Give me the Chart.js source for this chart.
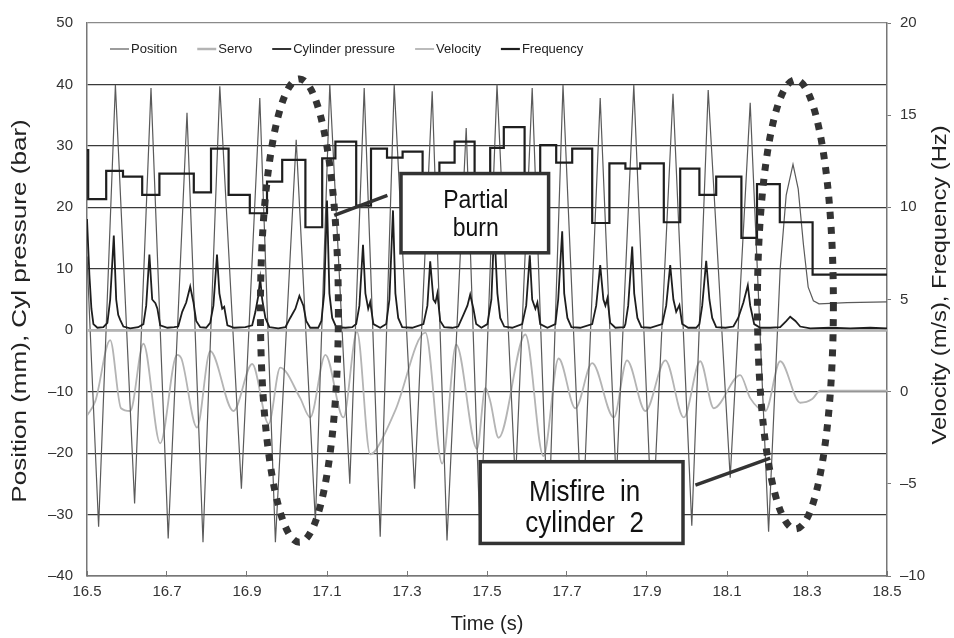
<!DOCTYPE html>
<html>
<head>
<meta charset="utf-8">
<title>Misfire / partial burn trace</title>
<script src="https://cdn.jsdelivr.net/npm/chart.js@4.4.1/dist/chart.umd.min.js"></script>
<style>
  body { margin: 0; background: #fff; }
</style>
</head>
<body>
<canvas id="chart" width="954" height="638"></canvas>
<script>
// values: [time (s), value]
const position = [
  [16.5,12],[16.529,-32.0],[16.571,39.9],[16.619,-28.2],[16.660,39.4],[16.703,-33.9],
  [16.750,35.4],[16.790,-34.5],[16.832,39.7],[16.886,-25.8],[16.932,37.8],[16.971,-34.5],
  [17.023,31.0],[17.071,-31.2],[17.107,40.0],[17.157,-25.0],[17.193,39.4],[17.233,-33.6],
  [17.268,39.9],[17.319,-25.8],[17.363,38.9],[17.400,-34.2],[17.448,32.9],[17.483,-34],
  [17.525,40.0],[17.571,-25],[17.613,39.4],[17.653,-34],[17.690,39.9],[17.738,-33],
  [17.783,37.8],[17.823,-25],[17.867,39.9],[17.913,-33],[17.965,38.5],[18.012,-31.8],
  [18.053,39.1],[18.108,-24.0],[18.158,37.0],[18.204,-32.8],[18.233,10],[18.248,22],
  [18.265,27.0],[18.278,23],[18.291,14],[18.303,7],[18.316,4.8],[18.330,4.3],[18.4,4.5],[18.5,4.6]
];

const servo = [[16.5,0],[18.5,0]];

const pressure = [
  [16.500,18.1],[16.506,9],[16.511,3.5],[16.516,1.0],[16.526,0.4],[16.541,0.5],
  [16.551,1.2],[16.558,5],[16.567,15.4],[16.573,5],[16.578,2.5],[16.583,1.7],[16.591,0.6],[16.608,0.3],[16.628,0.5],
  [16.641,1],[16.648,4],[16.656,12.3],[16.663,5],[16.671,4.4],[16.676,3.5],[16.683,0.8],[16.701,0.4],[16.718,0.5],
  [16.728,0.6],[16.738,3],[16.748,4.5],[16.758,7.1],[16.766,4.6],[16.773,1.5],[16.783,0.5],[16.798,0.4],
  [16.808,1.2],[16.816,4],[16.825,12.3],[16.831,6],[16.838,3.5],[16.843,3.8],[16.851,0.8],[16.868,0.4],[16.896,0.5],
  [16.913,0.8],[16.921,3],[16.928,5.5],[16.933,8.4],[16.938,5],[16.946,2],[16.956,0.5],[16.978,0.3],
  [16.996,0.5],[17.008,2],[17.021,3.5],[17.031,5.6],[17.041,4],[17.048,1.5],[17.058,0.4],[17.078,0.4],
  [17.086,1.5],[17.093,6],[17.100,21.1],[17.106,6],[17.113,2],[17.123,0.5],[17.146,0.4],[17.163,0.5],
  [17.173,1],[17.181,4],[17.190,13.9],[17.196,6],[17.203,3.5],[17.208,4.6],[17.216,1],[17.233,0.4],
  [17.248,1],[17.256,5],[17.265,19.5],[17.271,6],[17.278,2],[17.288,0.5],[17.313,0.4],
  [17.341,1],[17.351,4],[17.358,11.2],[17.366,5],[17.371,4.5],[17.376,6],[17.383,1.5],[17.393,0.5],[17.413,0.4],
  [17.428,0.6],[17.441,2.5],[17.451,4],[17.458,5.8],[17.466,3.5],[17.473,1],[17.486,0.4],
  [17.501,1],[17.511,5],[17.518,16.8],[17.526,6],[17.533,2],[17.543,0.6],[17.563,0.4],
  [17.588,1],[17.598,4],[17.607,12.2],[17.613,5],[17.621,3.5],[17.626,4.5],[17.633,1],[17.651,0.4],
  [17.671,1],[17.678,5],[17.688,16.1],[17.693,6],[17.701,2],[17.711,0.5],[17.733,0.4],
  [17.763,1],[17.773,4],[17.783,10.6],[17.791,5],[17.796,4],[17.801,5.2],[17.808,1.2],[17.821,0.4],[17.843,0.5],
  [17.846,1],[17.853,4],[17.863,13.6],[17.868,6],[17.876,2],[17.886,0.5],[17.908,0.4],
  [17.938,1],[17.948,4],[17.958,10.6],[17.966,5],[17.973,3],[17.981,4.1],[17.988,1],[18.003,0.4],[18.023,0.4],
  [18.031,1],[18.038,4],[18.048,11.3],[18.056,5],[18.063,2],[18.073,0.5],[18.096,0.4],
  [18.116,0.6],[18.128,2],[18.141,4.5],[18.152,7.3],[18.158,4],[18.168,1],[18.183,0.4],[18.208,0.4],
  [18.233,0.5],[18.248,1.5],[18.258,2.2],[18.271,1.5],[18.283,0.6],[18.308,0.3],[18.358,0.4],[18.408,0.3],[18.458,0.4],[18.500,0.3]
];

const velocity = [
  [16.500,-1.3],[16.521,-0.5],[16.558,2.8],[16.585,-0.9],[16.608,-1.05],[16.641,2.6],[16.683,-2.8],
  [16.725,2.0],[16.736,1.8],[16.775,-1.95],[16.808,2.2],[16.866,-1.05],[16.913,1.5],[16.954,-1.75],
  [16.983,1.3],[17.033,-0.35],[17.058,-1.4],[17.096,2.0],[17.141,-1.4],[17.175,3.25],[17.208,-3.4],
  [17.221,-3.2],[17.271,-1.0],[17.346,3.2],[17.388,-3.9],[17.423,2.55],[17.475,-3.1],[17.496,0.2],
  [17.508,-0.5],[17.529,-2.5],[17.596,3.1],[17.641,-3.5],[17.679,1.8],[17.721,-0.9],[17.763,1.55],
  [17.817,-1.4],[17.850,1.7],[17.896,-1.05],[17.946,1.7],[17.992,-1.4],[18.033,1.65],[18.067,-0.9],
  [18.133,0.9],[18.158,-0.35],[18.196,-1.05],[18.233,1.65],[18.283,-0.6],[18.313,-0.4],[18.333,0.05],[18.5,0.05]
];

// frequency: level holds from each time to the next one
const frequency = [
  [16.500,13.1],[16.503,10.45],[16.548,11.98],[16.590,11.67],[16.638,10.68],[16.681,11.83],
  [16.767,10.81],[16.810,13.18],[16.854,10.68],[16.907,9.68],[16.950,11.40],[16.988,12.57],
  [17.046,8.92],[17.088,12.66],[17.121,13.56],[17.173,10.09],[17.210,13.18],[17.250,12.70],
  [17.289,13.02],[17.339,10.3],[17.381,12.43],[17.419,13.56],[17.469,10.6],[17.508,13.23],
  [17.542,14.35],[17.594,11.0],[17.633,13.38],[17.673,12.43],[17.713,13.18],[17.763,9.15],
  [17.806,12.39],[17.846,12.10],[17.883,12.39],[17.942,9.19],[17.983,12.10],[18.031,10.68],
  [18.073,11.67],[18.136,8.34],[18.175,11.26],[18.232,9.19],[18.314,6.35],[18.500,6.35]
];

// call-outs, in data units of the left axis
const ellipses = [
  { t: 17.031, v: 3.2, dt: 0.0975, dv: 37.7 },
  { t: 18.271, v: 4.2, dt: 0.095, dv: 36.55 }
];
const boxes = [
  { t0: 17.285, t1: 17.654, v0: 25.5, v1: 12.6, lines: ['Partial', 'burn'], size: 23, stretch: 1.11, base: [34, 62.3], shift: 1 },
  { t0: 17.483, t1: 17.990, v0: -21.4, v1: -34.7, lines: ['Misfire  in', 'cylinder  2'], size: 26, stretch: 1.17, base: [39, 70.7], shift: 3 }
];
const leaders = [
  [[17.118, 18.7], [17.251, 21.94]],
  [[18.021, -25.2], [18.208, -20.8]]
];

const FONT = "'Liberation Sans', Arial, sans-serif";
const toXY = pts => pts.map(p => ({ x: p[0], y: p[1] }));
const dashLabel = v => v < 0 ? '\u2013' + Math.abs(v) : String(v);

// vertical axis titles, both read bottom to top, drawn a little stretched like the scan
function sideTitle(ctx, text, cx, cy, size, stretch) {
  ctx.save();
  ctx.translate(cx, cy);
  ctx.rotate(-Math.PI / 2);
  ctx.scale(stretch, 1);
  ctx.font = size + 'px ' + FONT;
  ctx.fillStyle = '#222';
  ctx.textAlign = 'center';
  ctx.textBaseline = 'middle';
  ctx.fillText(text, 0, 0);
  ctx.restore();
}

const overlay = {
  id: 'overlay',
  afterDatasetsDraw(chart) {
    const { ctx, chartArea, scales: { x, y } } = chart;
    ctx.save();

    // legend inside the plot
    ctx.font = '13px ' + FONT;
    ctx.textBaseline = 'middle';
    let lx = chartArea.left + 23;
    const ly = chartArea.top + 26;
    chart.data.datasets.forEach(ds => {
      ctx.strokeStyle = ds.borderColor;
      ctx.lineWidth = ds.borderWidth;
      ctx.beginPath();
      ctx.moveTo(lx, ly);
      ctx.lineTo(lx + 19, ly);
      ctx.stroke();
      ctx.fillStyle = '#222';
      ctx.fillText(ds.label, lx + 21, ly);
      lx += 21 + ctx.measureText(ds.label).width + 20;
    });

    // leader lines
    ctx.strokeStyle = '#333';
    ctx.lineWidth = 3.5;
    leaders.forEach(([a, b]) => {
      ctx.beginPath();
      ctx.moveTo(x.getPixelForValue(a[0]), y.getPixelForValue(a[1]));
      ctx.lineTo(x.getPixelForValue(b[0]), y.getPixelForValue(b[1]));
      ctx.stroke();
    });

    // text boxes
    boxes.forEach(b => {
      const bx0 = x.getPixelForValue(b.t0), bx1 = x.getPixelForValue(b.t1);
      const by0 = y.getPixelForValue(b.v0), by1 = y.getPixelForValue(b.v1);
      ctx.fillStyle = '#fff';
      ctx.fillRect(bx0, by0, bx1 - bx0, by1 - by0);
      ctx.lineWidth = 3.5;
      ctx.strokeStyle = '#333';
      ctx.strokeRect(bx0, by0, bx1 - bx0, by1 - by0);
      ctx.fillStyle = '#111';
      ctx.font = b.size + 'px ' + FONT;
      ctx.textAlign = 'center';
      ctx.textBaseline = 'alphabetic';
      b.lines.forEach((txt, i) => {
        ctx.save();
        ctx.translate((bx0 + bx1) / 2 + b.shift, by0 + b.base[i]);
        ctx.scale(1, b.stretch);
        ctx.fillText(txt, 0, 0);
        ctx.restore();
      });
    });

    // dotted ellipses
    ctx.strokeStyle = '#333';
    ctx.lineWidth = 7;
    ctx.setLineDash([7, 8]);
    ellipses.forEach(e => {
      const cx = x.getPixelForValue(e.t), cy = y.getPixelForValue(e.v);
      const rx = x.getPixelForValue(e.t + e.dt) - cx;
      const ry = cy - y.getPixelForValue(e.v + e.dv);
      ctx.beginPath();
      ctx.ellipse(cx, cy, rx, ry, 0, 0, Math.PI * 2);
      ctx.stroke();
    });
    ctx.restore();
  },
  afterDraw(chart) {
    const { ctx } = chart;
    sideTitle(ctx, 'Position (mm), Cyl pressure (bar)', 20, 311, 21, 1.24);
    sideTitle(ctx, 'Velocity (m/s), Frequency (Hz)', chart.width - 14, 285, 21, 1.13);
  }
};

new Chart(document.getElementById('chart'), {
  type: 'line',
  data: {
    datasets: [
      { label: 'Position', data: toXY(position), yAxisID: 'y', borderColor: '#5a5a5a', borderWidth: 1.2, order: 3 },
      { label: 'Servo', data: toXY(servo), yAxisID: 'y', borderColor: '#b4b4b4', borderWidth: 2.5, order: 2 },
      { label: 'Cylinder pressure', data: toXY(pressure), yAxisID: 'y', borderColor: '#1e1e1e', borderWidth: 1.8, order: 1 },
      { label: 'Velocity', data: toXY(velocity), yAxisID: 'y2', borderColor: '#b4b4b4', borderWidth: 1.8, cubicInterpolationMode: 'monotone', order: 4 },
      { label: 'Frequency', data: toXY(frequency), yAxisID: 'y2', borderColor: '#1e1e1e', borderWidth: 2.2, stepped: true, order: 0 }
    ]
  },
  options: {
    responsive: false,
    animation: false,
    layout: { padding: { top: 19, left: 0, right: 0, bottom: 0 } },
    elements: { point: { radius: 0 }, line: { tension: 0 } },
    plugins: { legend: { display: false }, tooltip: { enabled: false } },
    scales: {
      x: {
        type: 'linear', min: 16.5, max: 18.5,
        afterFit: s => { s.height = 62; },
        ticks: { stepSize: 0.2, autoSkip: false, maxRotation: 0, padding: 12, color: '#333',
                 font: { family: FONT, size: 15 }, callback: v => v.toFixed(1) },
        grid: { drawOnChartArea: false, tickLength: -5, color: '#777' },
        border: { color: '#777', width: 1.5 },
        title: { display: true, text: 'Time (s)', color: '#222', font: { family: FONT, size: 20 }, padding: { top: 0, bottom: 2 } }
      },
      y: {
        position: 'left', min: -40, max: 50,
        afterFit: s => { s.width = 87; },
        ticks: { stepSize: 10, padding: 14, color: '#333', font: { family: FONT, size: 15 }, callback: dashLabel },
        grid: { drawTicks: false, lineWidth: 1.2, color: c => (c.tick && c.tick.value === 50) ? '#8a8a8a' : '#3a3a3a' },
        border: { color: '#777', width: 1.5 }
      },
      y2: {
        position: 'right', min: -10, max: 20,
        afterFit: s => { s.width = 67; },
        ticks: { stepSize: 5, padding: 9, color: '#333', font: { family: FONT, size: 15 }, callback: dashLabel },
        grid: { drawOnChartArea: false, tickLength: 4, color: '#777' },
        border: { color: '#777', width: 1.5 }
      }
    }
  },
  plugins: [overlay]
});
</script>
</body>
</html>
